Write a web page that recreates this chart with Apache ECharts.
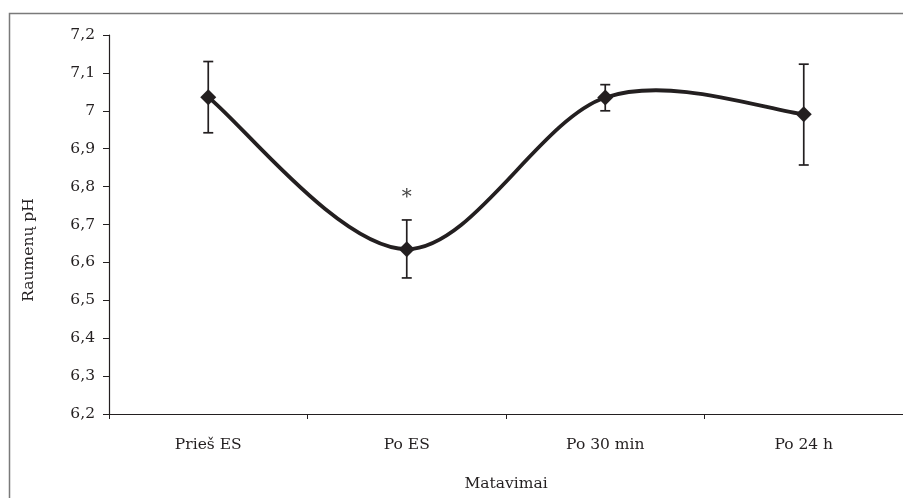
<!DOCTYPE html>
<html>
<head>
<meta charset="utf-8">
<script src="https://cdn.jsdelivr.net/npm/echarts@6/dist/echarts.min.js"></script>
<style>html,body{margin:0;padding:0;background:#fff;}#c{width:903px;height:498px;}</style>
</head>
<body>
<div id="c"></div>
<script>
var categories = ['Prieš ES', 'Po ES', 'Po 30 min', 'Po 24 h'];
var meanPH = [7.036, 6.635, 7.035, 6.991];
var errLow = [6.942, 6.559, 7.000, 6.857];
var errHigh = [7.130, 6.712, 7.069, 7.123];
var marks = ['', '*', '', ''];
var yTicks = [6.2, 6.3, 6.4, 6.5, 6.6, 6.7, 6.8, 6.9, 7.0, 7.1, 7.2];

var ink = '#231f20';
var font = 'DejaVu Serif';
var fs = 15.5;

var errData = categories.map(function (c, i) { return [i, errLow[i], errHigh[i]]; });
var segData = meanPH.slice(0, meanPH.length - 1).map(function (v, i) { return [i, v]; });

var chart = echarts.init(document.getElementById('c'));
chart.setOption({
  animation: false,
  backgroundColor: '#fff',
  graphic: [{
    type: 'rect', shape: { x: 9.5, y: 13.5, width: 950, height: 550 },
    style: { fill: 'none', stroke: '#7a7a7a', lineWidth: 1.5 }, z: -1
  }],
  grid: { left: 109, top: 35, right: 0, bottom: 84, containLabel: false },
  xAxis: {
    type: 'category', data: categories, boundaryGap: true,
    name: 'Matavimai', nameLocation: 'middle', nameGap: 62,
    nameTextStyle: { fontFamily: font, fontSize: fs, color: ink },
    axisLine: { lineStyle: { color: ink, width: 1.2 } },
    axisTick: { show: true, length: 5, inside: false, alignWithLabel: false, lineStyle: { color: ink, width: 1 } },
    axisLabel: { fontFamily: font, fontSize: fs, color: ink, margin: 23 },
    splitLine: { show: false }
  },
  yAxis: {
    type: 'value', min: 6.2, max: 7.2, interval: 0.1,
    name: 'Raumenų pH', nameLocation: 'middle', nameGap: 72, nameRotate: 90,
    nameTextStyle: { fontFamily: font, fontSize: fs, color: ink, padding: [0, 51, 0, 0] },
    axisLine: { show: true, lineStyle: { color: ink, width: 1.2 } },
    axisTick: { show: true, length: 6, lineStyle: { color: ink, width: 1 } },
    axisLabel: {
      fontFamily: font, fontSize: fs, color: ink, margin: 14,
      formatter: function (v) {
        var t = yTicks.find(function (y) { return Math.abs(y - v) < 1e-6; });
        var s = (t !== undefined ? t : v);
        return (Math.round(s * 10) / 10).toString().replace('.', ',');
      }
    },
    splitLine: { show: false }
  },
  series: [{
    // smooth curve (Catmull-Rom style, like spreadsheet smoothed lines)
    type: 'custom', data: segData, z: 2,
    renderItem: function (params, api) {
      var i = api.value(0);
      var n = meanPH.length;
      function P(j) { j = Math.max(0, Math.min(n - 1, j)); return api.coord([j, meanPH[j]]); }
      var p0 = P(i - 1), p1 = P(i), p2 = P(i + 1), p3 = P(i + 2);
      return {
        type: 'bezierCurve',
        shape: {
          x1: p1[0], y1: p1[1], x2: p2[0], y2: p2[1],
          cpx1: p1[0] + (p2[0] - p0[0]) / 6, cpy1: p1[1] + (p2[1] - p0[1]) / 6,
          cpx2: p2[0] - (p3[0] - p1[0]) / 6, cpy2: p2[1] - (p3[1] - p1[1]) / 6
        },
        style: { stroke: ink, lineWidth: 3.8, fill: 'none', lineCap: 'round' }
      };
    }
  }, {
    type: 'custom', data: errData, z: 3,
    renderItem: function (params, api) {
      var x = api.value(0);
      var lo = api.coord([x, api.value(1)]);
      var hi = api.coord([x, api.value(2)]);
      var w = 5;
      var st = { stroke: ink, lineWidth: 1.7 };
      var children = [
        { type: 'line', shape: { x1: lo[0], y1: lo[1], x2: hi[0], y2: hi[1] }, style: st },
        { type: 'line', shape: { x1: lo[0] - w, y1: lo[1], x2: lo[0] + w, y2: lo[1] }, style: st },
        { type: 'line', shape: { x1: hi[0] - w, y1: hi[1], x2: hi[0] + w, y2: hi[1] }, style: st }
      ];
      var m = marks[params.dataIndex];
      if (m) {
        children.push({ type: 'text', style: { text: m, x: hi[0], y: hi[1] - 22, align: 'center', verticalAlign: 'middle', font: '20px "' + font + '"', fill: '#444' } });
      }
      return { type: 'group', children: children };
    }
  }, {
    type: 'line', data: meanPH,
    symbol: 'diamond', symbolSize: 16, showSymbol: true,
    lineStyle: { width: 0, opacity: 0 },
    itemStyle: { color: ink },
    z: 4
  }]
});
</script>
</body>
</html>
